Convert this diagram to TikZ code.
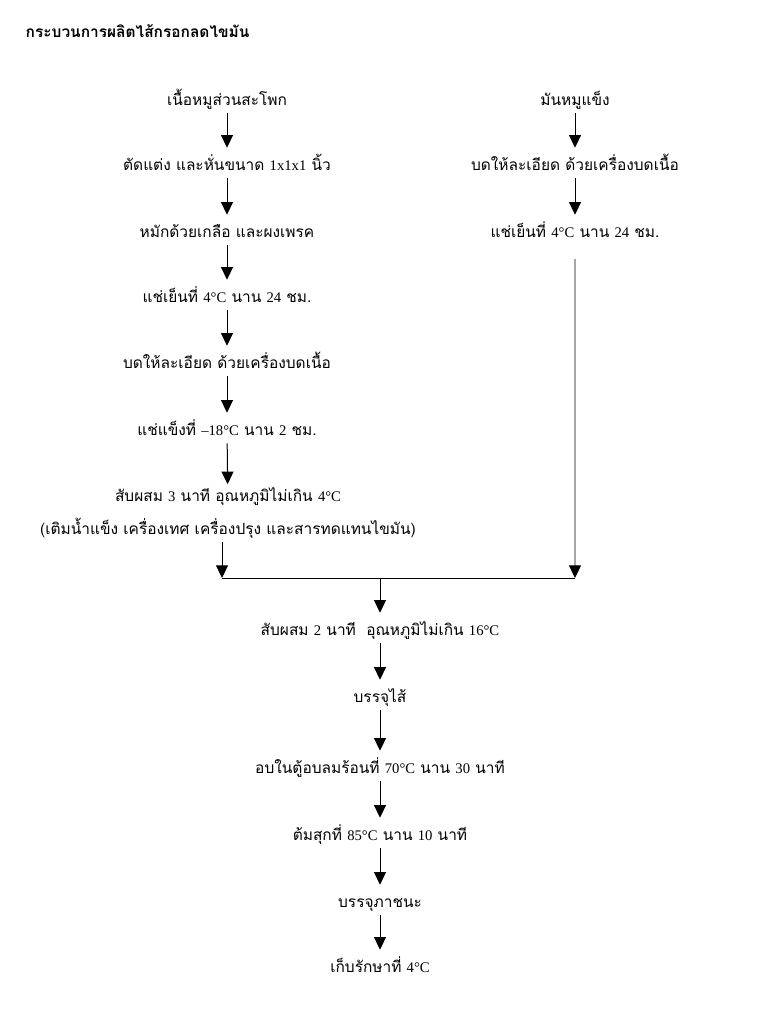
\documentclass[tikz,border=0pt]{standalone}
\usepackage{fontspec}
\setmainfont[Script=Thai]{Loma}
\newfontfamily\latinfont{Liberation Serif}
\usetikzlibrary{arrows.meta}
\newcommand{\lnum}[1]{{\latinfont\fontsize{11}{13}\selectfont #1}}
\tikzset{
  stage/.style={
    font=\fontsize{11.6}{14}\selectfont,
    inner sep=0pt,
    text height=16.5pt,
    text depth=6pt
  },
  twoline/.style={
    font=\fontsize{11.6}{14}\selectfont,
    align=center,
    inner xsep=0pt,
    inner ysep=2pt
  },
  arrow/.style={
    -{Triangle[length=9.5pt,width=9pt]},
    line width=.75pt,
    black
  },
  feed/.style={
    -{Triangle[length=9.5pt,width=9pt,color=black]},
    line width=.9pt,
    black!35
  }
}

\begin{document}
\begin{tikzpicture}[x=.75pt,y=-.75pt]
\useasboundingbox (0,0) rectangle (782,1015);
\node[anchor=west, font=\bfseries\fontsize{11.6}{13}\selectfont] (title) at (21,31) {กระบวนการผลิตไส้กรอกลดไขมัน};

\node[stage] (l1) at (227,98) {เนื้อหมูส่วนสะโพก};
\node[stage] (l2) at (227,163) {ตัดแต่ง และหั่นขนาด \lnum{1x1x1} นิ้ว};
\node[stage] (l3) at (227,230) {หมักด้วยเกลือ และผงเพรค};
\node[stage] (l4) at (227,295) {แช่เย็นที่ \lnum{4°C} นาน \lnum{24} ชม.};
\node[stage] (l5) at (227,361) {บดให้ละเอียด ด้วยเครื่องบดเนื้อ};
\node[stage] (l6) at (227,428) {แช่แข็งที่ \lnum{–18°C} นาน \lnum{2} ชม.};
\node[twoline] (l7) at (228,513) {สับผสม \lnum{3} นาที อุณหภูมิไม่เกิน \lnum{4°C}\\[9pt](เติมน้ำแข็ง เครื่องเทศ เครื่องปรุง และสารทดแทนไขมัน)};

\node[stage] (r1) at (575,98) {มันหมูแข็ง};
\node[stage] (r2) at (575,163) {บดให้ละเอียด ด้วยเครื่องบดเนื้อ};
\node[stage] (r3) at (575,230) {แช่เย็นที่ \lnum{4°C} นาน \lnum{24} ชม.};

\coordinate (jl) at (222,578);
\coordinate (jm) at (380,578);
\coordinate (jr) at (575,578);

\node[stage] (m1) at (380,628) {สับผสม \lnum{2} นาที\ \ อุณหภูมิไม่เกิน \lnum{16°C}};
\node[stage] (m2) at (380,695) {บรรจุไส้};
\node[stage] (m3) at (380,766) {อบในตู้อบลมร้อนที่ \lnum{70°C} นาน \lnum{30} นาที};
\node[stage] (m4) at (380,833) {ต้มสุกที่ \lnum{85°C} นาน \lnum{10} นาที};
\node[stage] (m5) at (380,900) {บรรจุภาชนะ};
\node[stage] (m6) at (380,965) {เก็บรักษาที่ \lnum{4°C}};

\draw[arrow] (l1) -- (l2);
\draw[arrow] (l2) -- (l3);
\draw[arrow] (l3) -- (l4);
\draw[arrow] (l4) -- (l5);
\draw[arrow] (l5) -- (l6);
\draw[arrow] (l6) -- (l7);
\draw[arrow] (l7.south -| jl) -- (jl);

\draw[arrow] (r1) -- (r2);
\draw[arrow] (r2) -- (r3);
\draw[feed] ([yshift=-10pt]r3.south) -- (jr);

\draw[line width=.75pt] (jl) -- (jr);
\draw[arrow] (jm) -- (m1);
\draw[arrow] (m1) -- (m2);
\draw[arrow] (m2) -- (m3);
\draw[arrow] (m3) -- (m4);
\draw[arrow] (m4) -- (m5);
\draw[arrow] (m5) -- (m6);
\end{tikzpicture}
\end{document}
